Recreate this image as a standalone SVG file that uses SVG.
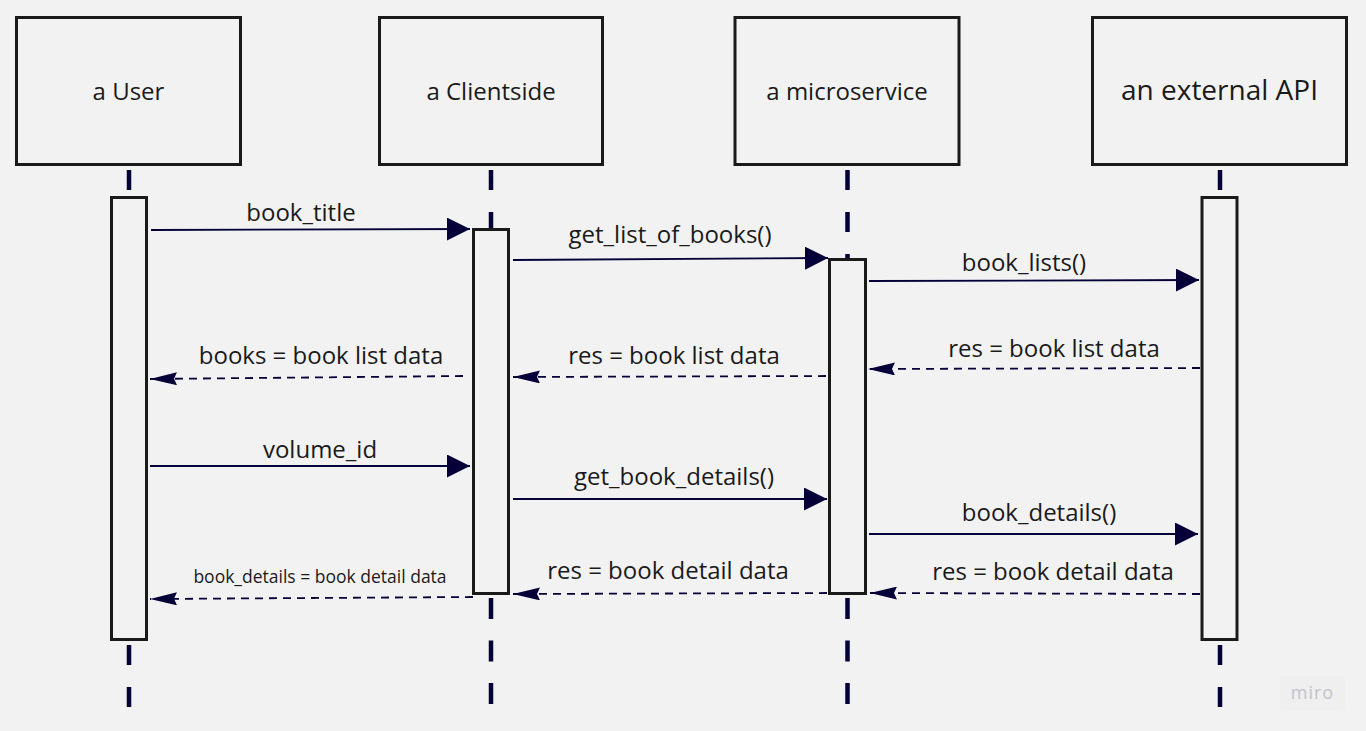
<svg xmlns="http://www.w3.org/2000/svg" width="1366" height="731" viewBox="0 0 1366 731">
  <defs>
    <style>
      .bg { fill: #f2f2f2; }
      .head { fill: #f2f2f2; stroke: #1a1a1a; stroke-width: 3; }
      .act { fill: #f2f2f2; stroke: #1a1a1a; stroke-width: 3; }
      .life { stroke: #050038; stroke-width: 4.5; fill: none; }
      .msg { stroke: #050038; stroke-width: 1.8; fill: none; }
      .ret { stroke: #050038; stroke-width: 1.8; fill: none; stroke-dasharray: 8 6; }
      .label { font-family: "Open Sans", "Noto Sans", "Liberation Sans", sans-serif; fill: #1a1a1a; text-anchor: middle; }
      .t24 { font-size: 24px; }
      .t28 { font-size: 28px; }
      .t17 { font-size: 17.5px; }
      .wm { font-family: "Open Sans", "Noto Sans", sans-serif; font-size: 18px; fill: #c2c2ca; text-anchor: middle; letter-spacing: 1px; }
    </style>
    <marker id="solid" markerUnits="userSpaceOnUse" markerWidth="23" markerHeight="23" refX="23" refY="11.5" orient="auto" viewBox="0 0 23 23">
      <path d="M0,0 L23,11.5 L0,23 z" fill="#050038"/>
    </marker>
    <marker id="open" markerUnits="userSpaceOnUse" markerWidth="27" markerHeight="13" refX="27" refY="6.5" orient="auto" viewBox="0 0 27 13">
      <path d="M0,0 L27,6.5 L0,13 L3,6.5 z" fill="#050038"/>
    </marker>
  </defs>

  <rect class="bg" x="0" y="0" width="1366" height="731"/>

  <!-- lifelines -->
  <g id="lifelines">
    <line class="life" x1="129" y1="170" x2="129" y2="196" stroke-dasharray="20 22"/>
    <line class="life" x1="129" y1="645" x2="129" y2="707" stroke-dasharray="20 22"/>
    <line class="life" x1="491" y1="170" x2="491" y2="228" stroke-dasharray="20 22"/>
    <line class="life" x1="491" y1="598" x2="491" y2="704" stroke-dasharray="21 21.5"/>
    <line class="life" x1="847.5" y1="170" x2="847.5" y2="258" stroke-dasharray="20 22"/>
    <line class="life" x1="847.5" y1="598" x2="847.5" y2="704" stroke-dasharray="21 21.5"/>
    <line class="life" x1="1220" y1="170" x2="1220" y2="196" stroke-dasharray="20 22"/>
    <line class="life" x1="1220" y1="645" x2="1220" y2="707" stroke-dasharray="20 22"/>
  </g>

  <!-- participants -->
  <g id="user">
    <rect class="head" x="16.5" y="17.5" width="224" height="147"/>
    <text class="label t24" x="128.5" y="100">a User</text>
    <rect class="act" x="111.5" y="197.5" width="35" height="442"/>
  </g>
  <g id="clientside">
    <rect class="head" x="379.5" y="17.5" width="223" height="147"/>
    <text class="label t24" x="491" y="100">a Clientside</text>
    <rect class="act" x="473.5" y="229.5" width="35" height="364"/>
  </g>
  <g id="microservice">
    <rect class="head" x="735" y="17.5" width="224" height="147"/>
    <text class="label t24" x="847" y="100">a microservice</text>
    <rect class="act" x="829.5" y="259.5" width="36" height="334"/>
  </g>
  <g id="external-api">
    <rect class="head" x="1092.5" y="17.5" width="254" height="147"/>
    <text class="label t28" x="1219.5" y="100">an external API</text>
    <rect class="act" x="1202" y="197.5" width="35" height="442"/>
  </g>

  <!-- connectors -->
  <g id="connectors">
    <line class="msg" x1="151" y1="230" x2="470" y2="229" marker-end="url(#solid)"/>
    <line class="msg" x1="513" y1="260" x2="828" y2="258" marker-end="url(#solid)"/>
    <line class="msg" x1="869" y1="281" x2="1199" y2="280" marker-end="url(#solid)"/>
    <line class="ret" x1="1200" y1="368" x2="868" y2="369" marker-end="url(#open)"/>
    <line class="ret" x1="826" y1="376" x2="513" y2="377" marker-end="url(#open)"/>
    <line class="ret" x1="463" y1="376" x2="150" y2="379" marker-end="url(#open)"/>
    <line class="msg" x1="150" y1="466" x2="470" y2="466" marker-end="url(#solid)"/>
    <line class="msg" x1="513" y1="499" x2="827" y2="499" marker-end="url(#solid)"/>
    <line class="msg" x1="869" y1="534" x2="1198" y2="534" marker-end="url(#solid)"/>
    <line class="ret" x1="1200" y1="594" x2="870" y2="593" marker-end="url(#open)"/>
    <line class="ret" x1="827" y1="593" x2="513" y2="594" marker-end="url(#open)"/>
    <line class="ret" x1="473" y1="597" x2="150" y2="599" marker-end="url(#open)"/>
  </g>

  <!-- connector labels -->
  <g id="labels">
    <text class="label t24" x="301" y="221">book_title</text>
    <text class="label t24" x="670" y="243">get_list_of_books()</text>
    <text class="label t24" x="1024" y="271">book_lists()</text>
    <text class="label t24" x="1054" y="357">res = book list data</text>
    <text class="label t24" x="674" y="364">res = book list data</text>
    <text class="label t24" x="321" y="364">books = book list data</text>
    <text class="label t24" x="320" y="458">volume_id</text>
    <text class="label t24" x="674" y="485">get_book_details()</text>
    <text class="label t24" x="1039" y="521">book_details()</text>
    <text class="label t24" x="1053" y="580">res = book detail data</text>
    <text class="label t24" x="668" y="579">res = book detail data</text>
    <text class="label t17" x="320" y="583">book_details = book detail data</text>
  </g>

  <!-- watermark -->
  <g id="watermark">
    <rect x="1280" y="676" width="65" height="34" rx="4" fill="#efeff0"/>
    <text class="wm" x="1312.5" y="699">miro</text>
  </g>
</svg>
